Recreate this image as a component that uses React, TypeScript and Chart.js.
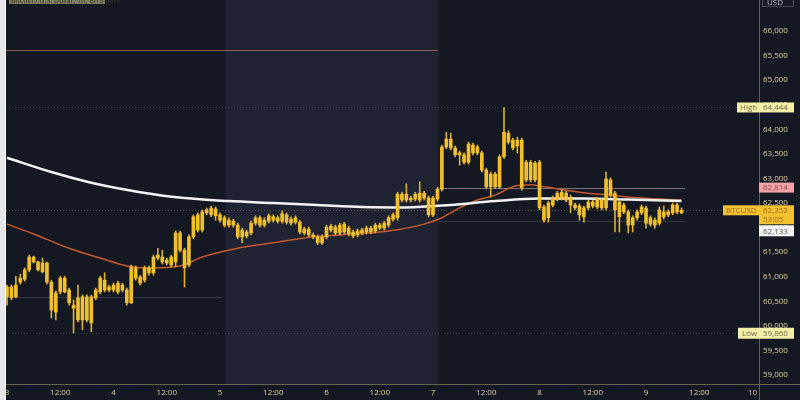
import React, { useEffect, useRef } from "react";
import { Chart, registerables } from "chart.js";

Chart.register(...registerables);

// ---------- data ----------
const TIME_TICKS = [0, 12, 24, 36, 48, 60, 72, 84, 96, 108, 120, 132, 144, 156, 168];
const TIME_LABELS = ["3", "12:00", "4", "12:00", "5", "12:00", "6", "12:00", "7", "12:00", "8", "12:00", "9", "12:00", "10"];
const PRICE_TICKS = [59000, 59500, 60000, 60500, 61000, 61500, 62000, 62500, 63000, 63500, 64000, 64500, 65000, 65500, 66000];

// hourly candles [open, high, low, close], hour 0 = day 3 00:00
const CANDLES: number[][] = [
  [60590, 60830, 60420, 60790], [60790, 60830, 60530, 60570], [60590, 61010, 60570, 60830], [60890, 61050, 60850, 60970],
  [60950, 61180, 60910, 61140], [61140, 61440, 61100, 61400], [61400, 61420, 61280, 61300], [61300, 61320, 61120, 61140],
  [61100, 61380, 61080, 61280], [61280, 61300, 60850, 60890], [60890, 60930, 60160, 60320], [60280, 60710, 60120, 60670],
  [60690, 61010, 60650, 60970], [60970, 61010, 60670, 60690], [60730, 60770, 60420, 60470], [60420, 60530, 59860, 60360],
  [60120, 60830, 60080, 60570], [60590, 60630, 59920, 60120], [60120, 60630, 60080, 60590], [60590, 60630, 59880, 60060],
  [60570, 60770, 60530, 60730], [60690, 61010, 60650, 60970], [60930, 61080, 60690, 60730], [60790, 60830, 60690, 60730],
  [60730, 60870, 60690, 60830], [60690, 60910, 60650, 60870], [60830, 60870, 60690, 60730], [60730, 60770, 60420, 60470],
  [60470, 61240, 60450, 61200], [61180, 61220, 60930, 60970], [60990, 61030, 60830, 60870], [60930, 61220, 60890, 61180],
  [61080, 61220, 61030, 61180], [61080, 61440, 61030, 61400], [61380, 61580, 61340, 61440], [61400, 61540, 61260, 61300],
  [61340, 61380, 61240, 61280], [61240, 61440, 61200, 61400], [61300, 61930, 61200, 61890], [61890, 61930, 61500, 61540],
  [61540, 61580, 60790, 61180], [61240, 61850, 61200, 61810], [61810, 62260, 61770, 62220], [62260, 62300, 61910, 61950],
  [61950, 62360, 61910, 62320], [62300, 62400, 62260, 62360], [62260, 62440, 62220, 62400], [62380, 62420, 62150, 62240],
  [62260, 62300, 62110, 62150], [62200, 62240, 62010, 62050], [62050, 62200, 62010, 62150], [62130, 62170, 62010, 62050],
  [62050, 62090, 61770, 61810], [61810, 61990, 61690, 61950], [61910, 61950, 61790, 61830], [61890, 62130, 61850, 62090],
  [62090, 62240, 62050, 62200], [62200, 62240, 62010, 62050], [62050, 62200, 62010, 62150], [62130, 62280, 62090, 62240],
  [62220, 62260, 62110, 62150], [62200, 62240, 62090, 62130], [62130, 62340, 62090, 62280], [62260, 62300, 62070, 62110],
  [62170, 62220, 62050, 62090], [62110, 62240, 62070, 62200], [62110, 62150, 61870, 61910], [61890, 62010, 61850, 61970],
  [61970, 62010, 61810, 61850], [61850, 61890, 61770, 61810], [61810, 61850, 61650, 61690], [61690, 61850, 61650, 61810],
  [61810, 62050, 61770, 62010], [61950, 62070, 61910, 62030], [62010, 62050, 61850, 61890], [61890, 62090, 61850, 62050],
  [62070, 62110, 61870, 61910], [61870, 62030, 61830, 61990], [61910, 61950, 61790, 61830], [61850, 61970, 61810, 61930],
  [61890, 61990, 61850, 61950], [61910, 62030, 61870, 61990], [61990, 62030, 61870, 61910], [61930, 62090, 61890, 62050],
  [61990, 62090, 61950, 62050], [61990, 62130, 61950, 62090], [62050, 62240, 62010, 62200], [62170, 62300, 62130, 62260],
  [62200, 62720, 62150, 62680], [62680, 62720, 62520, 62560], [62560, 62890, 62520, 62680], [62600, 62640, 62520, 62560],
  [62580, 62720, 62540, 62680], [62700, 62930, 62520, 62560], [62600, 62740, 62560, 62700], [62600, 62640, 62220, 62260],
  [62260, 62640, 62220, 62600], [62580, 62820, 62540, 62780], [62780, 63680, 62740, 63640], [63640, 63940, 63600, 63800],
  [63800, 63920, 63580, 63620], [63620, 63660, 63440, 63480], [63520, 63560, 63270, 63480], [63480, 63520, 63290, 63330],
  [63330, 63740, 63290, 63700], [63680, 63720, 63480, 63520], [63520, 63680, 63480, 63640], [63520, 63560, 63130, 63170],
  [63170, 63210, 62790, 62830], [62830, 63130, 62620, 63090], [63090, 63130, 62790, 62830], [62830, 63480, 62790, 63440],
  [63440, 64444, 63400, 63940], [63920, 63970, 63700, 63740], [63780, 63820, 63580, 63620], [63660, 63840, 63520, 63780],
  [63780, 63820, 62760, 62810], [62970, 63370, 62930, 63330], [63330, 63370, 62930, 62970], [62970, 63350, 62930, 63310],
  [63330, 63370, 62360, 62400], [62420, 62460, 62110, 62150], [62200, 62540, 62110, 62500], [62460, 62640, 62420, 62600],
  [62580, 62740, 62540, 62700], [62720, 62770, 62560, 62600], [62700, 62740, 62520, 62560], [62620, 62660, 62300, 62460],
  [62460, 62500, 62360, 62400], [62440, 62480, 62150, 62260], [62220, 62440, 62110, 62400], [62400, 62560, 62360, 62520],
  [62520, 62560, 62400, 62440], [62420, 62620, 62380, 62580], [62560, 62600, 62360, 62400], [62400, 63130, 62360, 62990],
  [62970, 63010, 62620, 62660], [62700, 62740, 61910, 62360], [62520, 62560, 61910, 62220], [62320, 62500, 62280, 62460],
  [62320, 62360, 61890, 62050], [62200, 62240, 61910, 62050], [62200, 62360, 62150, 62320], [62300, 62460, 62260, 62420],
  [62400, 62440, 61990, 62090], [62200, 62240, 62030, 62070], [62050, 62200, 61990, 62150], [62090, 62420, 62050, 62360],
  [62320, 62440, 62170, 62220], [62260, 62360, 62220, 62320], [62300, 62500, 62260, 62460], [62460, 62500, 62280, 62320],
  [62300, 62400, 62280, 62352],
];

// slow moving average (white), sampled hours and values
const MA_SLOW_HOURS = [0, 10, 20, 30, 40, 50, 60, 70, 80, 90, 100, 110, 120, 130, 140, 152];
const MA_SLOW_VALUES = [63420, 63130, 62890, 62720, 62600, 62540, 62500, 62460, 62420, 62410, 62460, 62540, 62590, 62590, 62570, 62540];
// fast moving average (orange)
const MA_FAST_HOURS = [0, 6, 14, 21, 27, 32, 39, 44, 52, 60, 67, 75, 86, 94, 98, 102, 106, 110, 114, 118, 121, 129, 136, 143, 152];
const MA_FAST_VALUES = [62070, 61870, 61580, 61380, 61220, 61180, 61220, 61400, 61580, 61690, 61790, 61850, 61930, 62070, 62200, 62400, 62560, 62660, 62830, 62870, 62830, 62720, 62660, 62600, 62560];

// horizontal levels: price, start hour, end hour
const LEVEL_PRICES = [65613, 62814, 62352, 62133, 64444, 59860, 60590];
const LEVEL_FROM = [-1, 97.3, -1, 97.3, -1, -1, -1];
const LEVEL_TO = [97.1, 152.8, 200, 152.8, 200, 200, 48.5];

const SHADE_SPAN = [49.2, 97.3];
const VIEW_X = [-0.225, 169.46];
const VIEW_Y = [58817, 66631];

const TITLE = "Bitcoin / U.S. Dollar, 1h, BITSTAMP";
const HIGH_PRICE = 64444;
const LOW_PRICE = 59860;
const LAST_PRICE = 62352;
const PREV_PRICE = 62814;
const BID_PRICE = 62133;
const COUNTDOWN = "53:05";
const SYMBOL = "BTCUSD";

// ---------- styles ----------
const W = 800;
const H = 400;
const FONT = "'Open Sans', 'DejaVu Sans', sans-serif";
const LABEL_COLOR = "#e0cf98";
const AXIS_LINE = "#6a6246";
const LEVEL_STYLE = [
  { color: "rgba(170,105,100,0.85)", dash: [] as number[] },
  { color: "rgba(190,165,165,0.65)", dash: [] as number[] },
  { color: "rgba(150,140,110,0.45)", dash: [1, 2] },
  { color: "rgba(130,130,140,0.30)", dash: [] as number[] },
  { color: "rgba(130,130,140,0.30)", dash: [1, 2] },
  { color: "rgba(130,130,140,0.30)", dash: [1, 2] },
  { color: "rgba(120,120,130,0.35)", dash: [] as number[] },
];
const fmt = (v: number) => v.toLocaleString("en-US");

const decor = {
  id: "decor",
  beforeDraw(chart: any) {
    const { ctx, chartArea: a, scales } = chart;
    const xs = scales.x;
    ctx.save();
    ctx.fillStyle = "#e6e6e9";
    ctx.fillRect(0, 0, W, H);
    ctx.fillStyle = "#141823";
    ctx.fillRect(6, 0, W - 6, H);
    ctx.fillStyle = "#fafafa";
    ctx.fillRect(5, 0, 1, H);
    const s0 = xs.getPixelForValue(SHADE_SPAN[0]);
    const s1 = xs.getPixelForValue(SHADE_SPAN[1]);
    ctx.fillStyle = "#1f2230";
    ctx.fillRect(s0, a.top, s1 - s0, a.bottom - a.top);
    ctx.restore();
  },
  beforeDatasetsDraw(chart: any) {
    const { ctx, chartArea: a, scales } = chart;
    const xs = scales.x, ys = scales.y;
    ctx.save();
    ctx.beginPath();
    ctx.rect(a.left, a.top, a.right - a.left, a.bottom - a.top);
    ctx.clip();
    LEVEL_PRICES.forEach((p, i) => {
      const y = Math.round(ys.getPixelForValue(p)) + 0.5;
      const x0 = Math.max(a.left, xs.getPixelForValue(LEVEL_FROM[i]));
      const x1 = Math.min(a.right, xs.getPixelForValue(LEVEL_TO[i]));
      ctx.strokeStyle = LEVEL_STYLE[i].color;
      ctx.setLineDash(LEVEL_STYLE[i].dash);
      ctx.lineWidth = 1;
      ctx.beginPath();
      ctx.moveTo(x0, y);
      ctx.lineTo(x1, y);
      ctx.stroke();
    });
    ctx.restore();
  },
  afterDraw(chart: any) {
    const { ctx, chartArea: a, scales } = chart;
    const ys = scales.y;
    ctx.save();
    ctx.strokeStyle = AXIS_LINE;
    ctx.lineWidth = 1;
    ctx.beginPath();
    ctx.moveTo(a.right + 0.5, 0);
    ctx.lineTo(a.right + 0.5, H);
    ctx.moveTo(6, a.bottom + 0.5);
    ctx.lineTo(W, a.bottom + 0.5);
    ctx.stroke();

    ctx.font = `8px ${FONT}`;
    ctx.textBaseline = "middle";
    ctx.textAlign = "left";
    const vx = a.right + 4;
    const bx1 = 794;

    // USD box
    ctx.fillStyle = "#181c28";
    ctx.fillRect(a.right + 3, -2, bx1 - a.right - 3, 9);
    ctx.strokeStyle = "#4a4a55";
    ctx.strokeRect(a.right + 3.5, -1.5, bx1 - a.right - 4, 8);
    ctx.fillStyle = "#b8b8c0";
    ctx.fillText("USD", a.right + 8, 2.5);

    // High
    let yc = ys.getPixelForValue(HIGH_PRICE);
    ctx.fillStyle = "#f3efa8";
    ctx.fillRect(737, yc - 5, bx1 - 737, 10);
    ctx.fillStyle = "#6f6c4a";
    ctx.fillText("High", 740, yc + 0.5);
    ctx.fillText(fmt(HIGH_PRICE), vx, yc + 0.5);

    // previous close (pink)
    yc = ys.getPixelForValue(PREV_PRICE);
    ctx.fillStyle = "#f2a3a6";
    ctx.fillRect(a.right, yc - 5, bx1 - a.right, 10);
    ctx.fillStyle = "#9a4747";
    ctx.fillText(fmt(PREV_PRICE), vx, yc + 0.5);

    // last price
    yc = ys.getPixelForValue(LAST_PRICE);
    ctx.fillStyle = "#f3c233";
    ctx.fillRect(723, yc - 5, a.right - 723, 10);
    ctx.fillRect(a.right, yc - 5, bx1 - a.right, 19);
    ctx.fillStyle = "#a0690a";
    ctx.fillText(SYMBOL, 726, yc + 0.5);
    ctx.fillText(fmt(LAST_PRICE), vx, yc + 0.5);
    ctx.fillText(COUNTDOWN, vx, yc + 9.5);

    // bid (white), pushed below
    const wt = yc + 15;
    ctx.fillStyle = "#f4f4f4";
    ctx.fillRect(a.right, wt, bx1 - a.right, 11);
    ctx.fillStyle = "#555560";
    ctx.fillText(fmt(BID_PRICE), vx, wt + 6);

    // Low
    yc = ys.getPixelForValue(LOW_PRICE);
    ctx.fillStyle = "#f3efa8";
    ctx.fillRect(738, yc - 5, bx1 - 738, 11);
    ctx.fillStyle = "#6f6c4a";
    ctx.fillText("Low", 742, yc + 0.5);
    ctx.fillText(fmt(LOW_PRICE), vx, yc + 0.5);

    // title, cut by top edge
    ctx.fillStyle = "rgba(205,190,140,0.6)";
    ctx.fillRect(9, 0, 96, 4);
    ctx.fillStyle = "#3a3424";
    ctx.font = `7px ${FONT}`;
    ctx.textBaseline = "alphabetic";
    ctx.fillText(TITLE, 11, 3);
    ctx.restore();
  },
};

export default function App() {
  const ref = useRef<HTMLCanvasElement>(null);
  useEffect(() => {
    const hours = CANDLES.map((_, i) => i);
    const wicks = CANDLES.map((c, i) => ({ x: hours[i], y: [c[2], c[1]] }));
    const bodies = CANDLES.map((c, i) => ({ x: hours[i], y: [c[0], c[3]] }));
    const slow = MA_SLOW_HOURS.map((h, i) => ({ x: h, y: MA_SLOW_VALUES[i] }));
    const fast = MA_FAST_HOURS.map((h, i) => ({ x: h, y: MA_FAST_VALUES[i] }));

    const chart = new Chart(ref.current as HTMLCanvasElement, {
      type: "bar",
      data: {
        datasets: [
          { type: "bar", data: bodies as any, backgroundColor: "#f2c02d", barThickness: 3, grouped: false, order: 0 } as any,
          { type: "bar", data: wicks as any, backgroundColor: "#d8ae36", barThickness: 1, grouped: false, order: 1 } as any,
          { type: "line", data: slow as any, borderColor: "#f3f3f3", borderWidth: 2.5, pointRadius: 0, cubicInterpolationMode: "monotone", order: 2 } as any,
          { type: "line", data: fast as any, borderColor: "#c45a2c", borderWidth: 1.5, pointRadius: 0, cubicInterpolationMode: "monotone", order: 3 } as any,
        ],
      },
      options: {
        responsive: false,
        animation: false,
        events: [],
        layout: { padding: { left: 6, top: 0, right: 0, bottom: 0 } },
        plugins: { legend: { display: false }, tooltip: { enabled: false } },
        scales: {
          x: {
            type: "linear",
            min: VIEW_X[0],
            max: VIEW_X[1],
            offset: false,
            grid: { display: false, drawTicks: false },
            border: { display: false },
            afterBuildTicks: (s: any) => {
              s.ticks = TIME_TICKS.map((v) => ({ value: v }));
            },
            afterFit: (s: any) => {
              s.height = 16;
              s.paddingLeft = 0;
              s.paddingRight = 0;
            },
            ticks: {
              autoSkip: false,
              maxRotation: 0,
              padding: 4,
              color: LABEL_COLOR,
              font: { family: FONT, size: 8 },
              callback: (_v: any, i: number) => TIME_LABELS[i],
            },
          },
          y: {
            type: "linear",
            position: "right",
            min: VIEW_Y[0],
            max: VIEW_Y[1],
            grid: { display: false, drawTicks: false },
            border: { display: false },
            afterBuildTicks: (s: any) => {
              s.ticks = PRICE_TICKS.map((v) => ({ value: v }));
            },
            afterFit: (s: any) => {
              s.width = 41;
              s.paddingTop = 0;
              s.paddingBottom = 0;
            },
            ticks: {
              padding: 4,
              color: LABEL_COLOR,
              font: { family: FONT, size: 8 },
              callback: (v: any) => fmt(Number(v)),
            },
          },
        },
      } as any,
      plugins: [decor],
    });
    return () => chart.destroy();
  }, []);

  return (
    <div style={{ position: "fixed", left: 0, top: 0, width: W, height: H }}>
      <canvas ref={ref} width={W} height={H} style={{ display: "block", width: W, height: H }} />
    </div>
  );
}
